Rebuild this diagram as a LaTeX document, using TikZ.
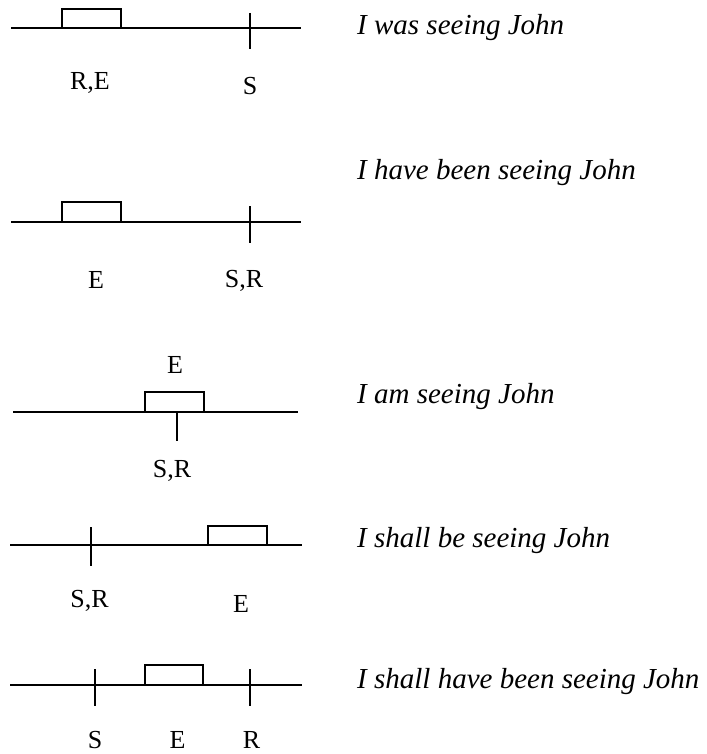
\documentclass[tikz,border=0pt]{standalone}
\usepackage{fontspec}
\setmainfont{Liberation Serif}
\begin{document}
\begin{tikzpicture}[x=1pt,y=-1pt,
  axis/.style={line width=2pt},
  tick/.style={line width=2pt},
  event/.style={draw,line width=2pt,fill=white},
  pointlabel/.style={anchor=base,inner sep=0pt,font=\fontsize{26}{30}\selectfont},
  sentence/.style={anchor=base west,inner sep=0pt,font=\fontsize{29}{34}\selectfont\itshape}]
\useasboundingbox (0,0) rectangle (706,754);

% past progressive
\coordinate (a1) at (11,28);  \coordinate (b1) at (301,28);
\draw[axis] (a1) -- (b1);
\draw[event] (62,9) rectangle (121,28);
\coordinate (s1t) at (250,13); \coordinate (s1b) at (250,49);
\draw[tick] (s1t) -- (s1b);
\node[pointlabel] (re1) at (90,90) {R,E};
\node[pointlabel] (s1) at (250,95) {S};
\node[sentence] (t1) at (357,35) {I was seeing John};

% present perfect progressive
\coordinate (a2) at (11,222);  \coordinate (b2) at (301,222);
\draw[axis] (a2) -- (b2);
\draw[event] (62,202) rectangle (121,222);
\coordinate (s2t) at (250,206); \coordinate (s2b) at (250,243);
\draw[tick] (s2t) -- (s2b);
\node[pointlabel] (e2) at (96,288) {E};
\node[pointlabel] (sr2) at (244,287) {S,R};
\node[sentence] (t2) at (357,179) {I have been seeing John};

% present progressive
\coordinate (a3) at (13,412);  \coordinate (b3) at (298,412);
\draw[axis] (a3) -- (b3);
\draw[event] (145,392) rectangle (204,412);
\coordinate (s3t) at (177,412); \coordinate (s3b) at (177,441);
\draw[tick] (s3t) -- (s3b);
\node[pointlabel] (e3) at (175,373) {E};
\node[pointlabel] (sr3) at (172,477) {S,R};
\node[sentence] (t3) at (357,403) {I am seeing John};

% future progressive
\coordinate (a4) at (10,545);  \coordinate (b4) at (302,545);
\draw[axis] (a4) -- (b4);
\draw[event] (208,526) rectangle (267,545);
\coordinate (s4t) at (91,527); \coordinate (s4b) at (91,566);
\draw[tick] (s4t) -- (s4b);
\node[pointlabel] (sr4) at (89.5,607) {S,R};
\node[pointlabel] (e4) at (241,612) {E};
\node[sentence] (t4) at (357,547) {I shall be seeing John};

% future perfect progressive
\coordinate (a5) at (10,685);  \coordinate (b5) at (302,685);
\draw[axis] (a5) -- (b5);
\draw[event] (145,665) rectangle (203,685);
\coordinate (s5t) at (95,669); \coordinate (s5b) at (95,706);
\coordinate (r5t) at (250,669); \coordinate (r5b) at (250,706);
\draw[tick] (s5t) -- (s5b);
\draw[tick] (r5t) -- (r5b);
\node[pointlabel] (s5) at (95,748) {S};
\node[pointlabel] (e5) at (177.5,748) {E};
\node[pointlabel] (r5) at (251.5,748) {R};
\node[sentence] (t5) at (357,688) {I shall have been seeing John};
\end{tikzpicture}
\end{document}
